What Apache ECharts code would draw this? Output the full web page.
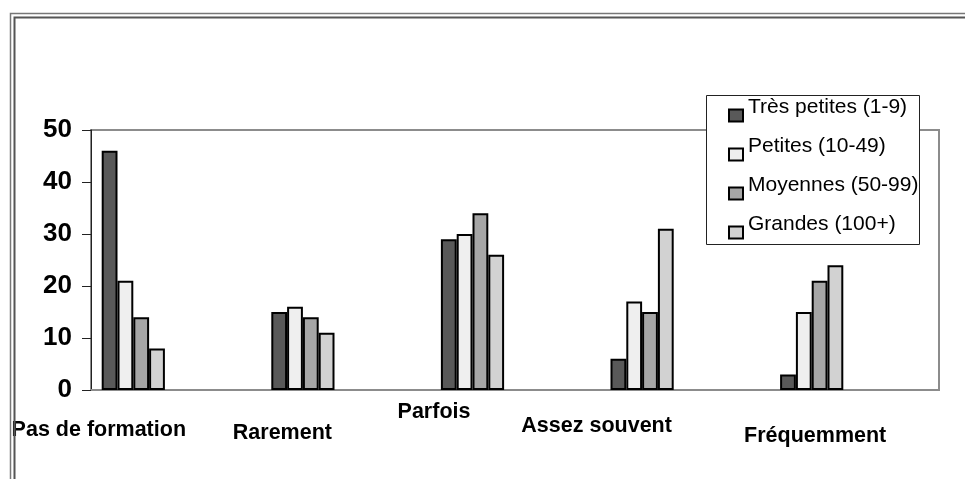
<!DOCTYPE html>
<html>
<head>
<meta charset="utf-8">
<script src="https://cdn.jsdelivr.net/npm/echarts@6/dist/echarts.min.js"></script>
<style>
  html, body { margin: 0; padding: 0; background: #fff; }
  #chart { width: 965px; height: 479px; }
</style>
</head>
<body>
<div id="chart"></div>
<script>
// données
const categories = ["Pas de formation", "Rarement", "Parfois", "Assez souvent", "Fréquemment"]
const seriesNames = ["Très petites (1-9)", "Petites (10-49)", "Moyennes (50-99)", "Grandes (100+)"]
const tresPetites = [46, 15, 29, 6, 3]
const petites = [21, 16, 30, 17, 15]
const moyennes = [14, 14, 34, 15, 21]
const grandes = [8, 11, 26, 31, 24]
const yTicks = [0, 10, 20, 30, 40, 50]

// style
const barColors = ["#595959", "#efefef", "#a6a6a6", "#d2d2d2"]
const labelShiftX = [-77, -63, -81, -88, -39] // labels décalés comme dans l'original
const labelShiftY = [56, 62, 21, 49, 69]
const font = "Liberation Sans, Arial, sans-serif"

const allValues = [tresPetites, petites, moyennes, grandes]

const rich = {}
categories.forEach((c, i) => {
  const dx = labelShiftX[i]
  rich["c" + i] = {
    fontSize: 21.5,
    fontWeight: "bold",
    fontFamily: font,
    color: "#000",
    lineHeight: 24,
    padding: [labelShiftY[i], dx < 0 ? -2 * dx : 0, 0, dx > 0 ? 2 * dx : 0],
  }
})

const chart = echarts.init(document.getElementById("chart"))

const option = {
  backgroundColor: "#fff",
  animation: false,
  grid: [
    // cadre + axes
    { left: 91, right: 26, top: 130, bottom: 89, show: true, borderColor: "#8c8c8c", borderWidth: 2, outerBoundsMode: "none" },
    // barres (décalées à gauche dans chaque catégorie)
    { left: 48.5, right: 68.5, top: 130, bottom: 89, outerBoundsMode: "none" },
  ],
  xAxis: [
    {
      gridIndex: 0,
      type: "category",
      data: categories,
      axisLine: { lineStyle: { color: "#8c8c8c", width: 2 } },
      axisTick: { show: false },
      axisLabel: {
        interval: 0,
        margin: 0,
        hideOverlap: false,
        formatter: (v, i) => "{c" + i + "|" + v + "}",
        rich: rich,
      },
    },
    { gridIndex: 1, type: "category", data: categories, show: false },
  ],
  yAxis: [
    {
      gridIndex: 0,
      type: "value",
      min: yTicks[0],
      max: yTicks[yTicks.length - 1],
      interval: yTicks[1] - yTicks[0],
      axisLine: { show: true, lineStyle: { color: "#222", width: 1 } },
      axisTick: { show: true, length: 9, lineStyle: { color: "#222" } },
      splitLine: { show: false },
      axisLabel: { fontSize: 26, fontWeight: "bold", fontFamily: font, color: "#000", margin: 19 },
    },
    { gridIndex: 1, type: "value", min: 0, max: 50, show: false },
  ],
  legend: {
    data: seriesNames,
    orient: "vertical",
    left: 728,
    top: 97,
    padding: 0,
    itemWidth: 14,
    itemHeight: 12,
    itemGap: 2,
    icon: "rect",
    z: 10,
    formatter: name => "{t|" + name + "}",
    textStyle: {
      rich: {
        t: { fontSize: 21, fontFamily: font, color: "#000", lineHeight: 22, padding: [0, 0, 16, 0] },
      },
    },
  },
  graphic: [
    // cadre de la légende
    { type: "rect", z: 3, shape: { x: 706.5, y: 95.5, width: 213, height: 149 }, style: { fill: "#fff", stroke: "#222", lineWidth: 1 } },
    // double bordure extérieure
    { type: "polyline", z: 1, shape: { points: [[10.5, 479], [10.5, 13.5], [965, 13.5]] }, style: { fill: null, stroke: "#777", lineWidth: 1.5 } },
    { type: "polyline", z: 1, shape: { points: [[14.5, 479], [14.5, 17.5], [965, 17.5]] }, style: { fill: null, stroke: "#555", lineWidth: 2 } },
  ],
  series: seriesNames.map((name, k) => ({
    name: name,
    type: "bar",
    xAxisIndex: 1,
    yAxisIndex: 1,
    barWidth: 15.8,
    barGap: "0%",
    itemStyle: { color: barColors[k], borderColor: "#000", borderWidth: 2 },
    data: allValues[k],
  })),
}

chart.setOption(option)
</script>
</body>
</html>
